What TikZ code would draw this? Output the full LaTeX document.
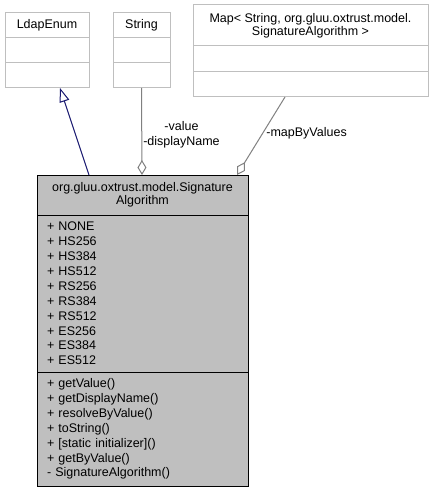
\documentclass[tikz,border=0pt]{standalone}
\usepackage{fontspec}
\setmainfont{Liberation Sans}
\usetikzlibrary{positioning,arrows.meta}
\definecolor{inheritblue}{HTML}{191970}
\begin{document}
\begin{tikzpicture}[x=1pt,y=-1pt]
\tikzstyle{supbox}=[rectangle, draw=black!25, fill=white, line width=1pt, inner sep=0pt, outer sep=0pt, align=center, font=\fontsize{12.5}{13.3}\selectfont]
\tikzstyle{mainbox}=[rectangle, draw=black, fill=black!25, line width=1pt, inner sep=0pt, outer sep=0pt, minimum width=211pt, font=\fontsize{12.5}{13.3}\selectfont]
\tikzstyle{members}=[mainbox, align=left, text width=191pt, font=\fontsize{12.5}{14.9}\selectfont]
\tikzstyle{inherit}=[-{Triangle[open,length=14pt,width=10pt]}, line width=1pt, draw=inheritblue]
\tikzstyle{aggr}=[-{Diamond[open,length=15pt,width=9pt]}, line width=1pt, draw=black!50]
\tikzstyle{lbl}=[inner sep=1pt, align=center, font=\fontsize{12.5}{14.5}\selectfont]
	\useasboundingbox (0,0) rectangle (434,492);
	\node[supbox, minimum width=84pt, minimum height=25pt] (ldapT) at (47,25.5) {LdapEnum};
	\node[supbox, minimum width=84pt, minimum height=25pt] (ldapA) [below=0pt of ldapT] {};
	\node[supbox, minimum width=84pt, minimum height=25pt] (ldapB) [below=0pt of ldapA] {};
	\node[supbox, minimum width=57pt, minimum height=25pt] (strT) at (141.5,25.5) {String};
	\node[supbox, minimum width=57pt, minimum height=25pt] (strA) [below=0pt of strT] {};
	\node[supbox, minimum width=57pt, minimum height=25pt] (strB) [below=0pt of strA] {};
	\node[supbox, minimum width=235pt, minimum height=41pt] (mapT) at (310.5,25.5) {Map< String, org.gluu.oxtrust.model.\\SignatureAlgorithm >};
	\node[supbox, minimum width=235pt, minimum height=25.5pt] (mapA) [below=0pt of mapT] {};
	\node[supbox, minimum width=235pt, minimum height=25.5pt] (mapB) [below=0pt of mapA] {};
	\node[mainbox, align=center, minimum height=40pt] (mainT) at (142.5,195) {org.gluu.oxtrust.model.Signature\\Algorithm};
	\node[members, minimum height=157pt] (mainA) [below=0pt of mainT] {+ NONE\\+ HS256\\+ HS384\\+ HS512\\+ RS256\\+ RS384\\+ RS512\\+ ES256\\+ ES384\\+ ES512};
	\node[members, minimum height=114pt] (mainM) [below=0pt of mainA] {+ getValue()\\+ getDisplayName()\\+ resolveByValue()\\+ toString()\\+ [static initializer]()\\+ getByValue()\\- SignatureAlgorithm()};
	\path ([xshift=-53.5pt]mainT.north) edge [inherit] ([xshift=13pt]ldapB.south);
	\path (strB.south) edge [aggr] node[lbl, anchor=west, pos=0.54] {-value\\-displayName} ([xshift=-0.5pt]mainT.north);
	\path ([xshift=-25.5pt]mapB.south) edge [aggr] node[lbl, anchor=west, pos=0.46, xshift=2pt] {-mapByValues} ([xshift=94.5pt]mainT.north);
\end{tikzpicture}
\end{document}
